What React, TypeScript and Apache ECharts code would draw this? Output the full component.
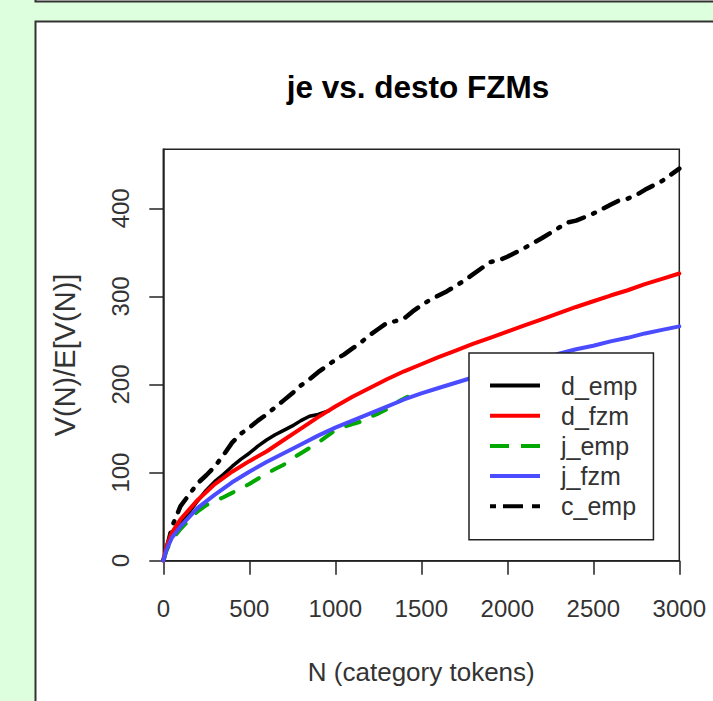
import React, { useEffect, useRef } from "react";
import * as echarts from "echarts";

const FONT = '"Liberation Sans", Arial, sans-serif';

const titleText = "je vs. desto FZMs";
const xName = "N (category tokens)";
const yName = "V(N)/E[V(N)]";
const xTicks = [0, 500, 1000, 1500, 2000, 2500, 3000];
const yTicks = [0, 100, 200, 300, 400];
const seriesNames = ["d_emp", "d_fzm", "j_emp", "j_fzm", "c_emp"];

const dEmp: [number, number][] = [
  [1, 1], [20, 13], [50, 28], [100, 43], [150, 55], [200, 68], [250, 80], [300, 90],
  [350, 98], [400, 107], [450, 115], [500, 122], [550, 130], [600, 137], [650, 143],
  [700, 148], [750, 153], [800, 159], [850, 164], [900, 166], [960, 170],
];

const dFzm: [number, number][] = [
  [0, 0], [20, 17], [50, 32], [100, 47], [150, 58], [200, 69], [300, 87], [400, 101],
  [500, 113], [600, 124], [700, 137], [800, 150], [900, 163], [1000, 175], [1100, 186],
  [1200, 196], [1300, 206], [1400, 215], [1500, 223], [1600, 231], [1700, 238.5],
  [1800, 246], [1900, 253], [2000, 260], [2100, 267], [2200, 274], [2300, 281],
  [2400, 288], [2500, 294.5], [2600, 301], [2700, 307], [2800, 314], [2900, 320], [3000, 326],
];

const jEmp: [number, number][] = [
  [1, 1], [20, 12], [50, 24], [100, 36], [150, 46], [200, 56], [250, 63], [300, 68],
  [350, 72], [400, 77], [450, 82], [500, 87], [550, 93], [600, 99], [650, 104],
  [700, 109], [750, 116], [800, 122], [850, 128], [900, 134], [950, 141], [1000, 148],
  [1050, 152], [1100, 155], [1150, 158], [1200, 163], [1250, 167], [1300, 172],
  [1350, 179], [1400, 184], [1420, 186],
];

const jFzm: [number, number][] = [
  [0, 0], [20, 13], [50, 26], [100, 39], [200, 60], [300, 75], [400, 89], [500, 101],
  [600, 112], [700, 122], [800, 132], [900, 142], [1000, 151], [1100, 159], [1200, 167],
  [1300, 175], [1400, 183], [1500, 190], [1600, 196], [1700, 202], [1800, 208],
  [1900, 213], [2000, 219], [2100, 224], [2200, 229], [2300, 235], [2400, 240],
  [2500, 244], [2600, 249], [2700, 253], [2800, 258], [2900, 262], [3000, 266],
];

const cEmp: [number, number][] = [
  [1, 1], [15, 10], [50, 38], [100, 62], [150, 75], [200, 88], [250, 97], [300, 107],
  [350, 120], [400, 134], [450, 144], [500, 151], [550, 159], [600, 166], [650, 174],
  [700, 182], [750, 190], [800, 199], [850, 206], [900, 214], [950, 221], [1000, 228],
  [1050, 234], [1100, 241], [1150, 248], [1200, 256], [1250, 263], [1300, 270],
  [1350, 272], [1400, 275], [1450, 283], [1500, 290], [1550, 296], [1600, 301],
  [1650, 306], [1700, 312], [1750, 318], [1800, 325], [1850, 332], [1900, 339],
  [1950, 341], [2000, 345], [2100, 355], [2200, 366], [2300, 378], [2350, 384],
  [2400, 386], [2500, 394], [2600, 404], [2650, 409], [2700, 411], [2750, 415],
  [2800, 421], [2900, 431], [3000, 445],
];

const colors = ["#000000", "#ff0000", "#00a800", "#4b4bff", "#000000"];

export default function App() {
  const ref = useRef<HTMLDivElement>(null);

  useEffect(() => {
    if (!ref.current) return;
    const chart = echarts.init(ref.current, null, { renderer: "svg" });

    const axisLineStyle = { color: "#222", width: 1.5 };
    const labelStyle = { fontSize: 24, color: "#333", fontFamily: FONT };

    const icons = [
      "path://M0,0H50V4H0Z",
      "path://M0,0H50V4H0Z",
      "path://M0,0H19V4H0Z M31,0H50V4H31Z",
      "path://M0,0H50V4H0Z",
      "path://M0,0H6V4H0Z M13,0H33V4H13Z M42,0H50V4H42Z",
    ];

    const datas = [dEmp, dFzm, jEmp, jFzm, cEmp];
    const lineTypes: any[] = ["solid", "solid", [14, 15], "solid", [2, 10, 16, 10]];
    const widths = [3.5, 4, 4, 4, 4.5];

    chart.setOption({
      animation: false,
      backgroundColor: "#ddffdd",
      title: {
        text: titleText,
        left: 418,
        top: 71,
        padding: 0,
        textAlign: "center",
        textStyle: { fontSize: 31.5, fontWeight: "bold", color: "#000", fontFamily: FONT },
      },
      graphic: [
        {
          type: "rect",
          z: -10,
          shape: { x: 35.5, y: -20, width: 700, height: 21.5 },
          style: { fill: "#ffffff", stroke: "#333", lineWidth: 2 },
        },
        {
          type: "rect",
          z: -10,
          shape: { x: 35.5, y: 21.5, width: 700, height: 700 },
          style: { fill: "#ffffff", stroke: "#333", lineWidth: 2 },
        },
      ],
      grid: {
        left: 163.3,
        top: 149.3,
        right: 33.7,
        bottom: 140.3,
        show: true,
        borderColor: "#222",
        borderWidth: 1.5,
        backgroundColor: "transparent",
        containLabel: false,
        outerBoundsMode: "none",
      },
      legend: {
        orient: "vertical",
        left: 469,
        top: 353,
        padding: [20, 16, 21, 21],
        itemGap: 5.2,
        itemWidth: 50,
        itemHeight: 4,
        backgroundColor: "#ffffff",
        borderColor: "#222",
        borderWidth: 1.5,
        borderRadius: 0,
        z: 10,
        itemStyle: { borderWidth: 0 },
        textStyle: { fontSize: 25, color: "#333", fontFamily: FONT, lineHeight: 20, padding: [0, 0, 0, 16] },
        data: seriesNames.map((n, i) => ({ name: n, icon: icons[i] })),
      },
      xAxis: {
        type: "value",
        min: 0,
        max: 3000,
        interval: 500,
        name: xName,
        nameLocation: "middle",
        nameGap: 98,
        nameTextStyle: { fontSize: 26, color: "#333", fontFamily: FONT },
        axisLine: { show: true, lineStyle: axisLineStyle },
        axisTick: { show: true, length: 14, inside: false, lineStyle: axisLineStyle, customValues: xTicks },
        axisLabel: { ...labelStyle, margin: 36, customValues: xTicks, formatter: (v: number) => String(v) },
        splitLine: { show: false },
      },
      yAxis: {
        type: "value",
        min: 0,
        max: 467,
        interval: 100,
        name: yName,
        nameLocation: "middle",
        nameRotate: 90,
        nameGap: 84,
        nameTextStyle: { fontSize: 29, color: "#333", fontFamily: FONT },
        axisLine: { show: true, lineStyle: axisLineStyle },
        axisTick: { show: true, length: 14, inside: false, lineStyle: axisLineStyle, customValues: yTicks },
        axisLabel: { ...labelStyle, rotate: 90, margin: 31, customValues: yTicks, formatter: (v: number) => String(v) },
        splitLine: { show: false },
      },
      series: seriesNames.map((n, i) => ({
        name: n,
        type: "line",
        data: datas[i],
        symbol: "none",
        showSymbol: false,
        clip: true,
        z: 2 + (i === 1 || i === 3 ? 1 : 0),
        itemStyle: { color: colors[i] },
        lineStyle: {
          color: colors[i],
          width: widths[i],
          type: lineTypes[i],
          cap: "round",
          join: "round",
        },
      })),
    });

    return () => chart.dispose();
  }, []);

  return (
    <div
      ref={ref}
      style={{ position: "absolute", left: 0, top: 0, width: 713, height: 701 }}
    />
  );
}
